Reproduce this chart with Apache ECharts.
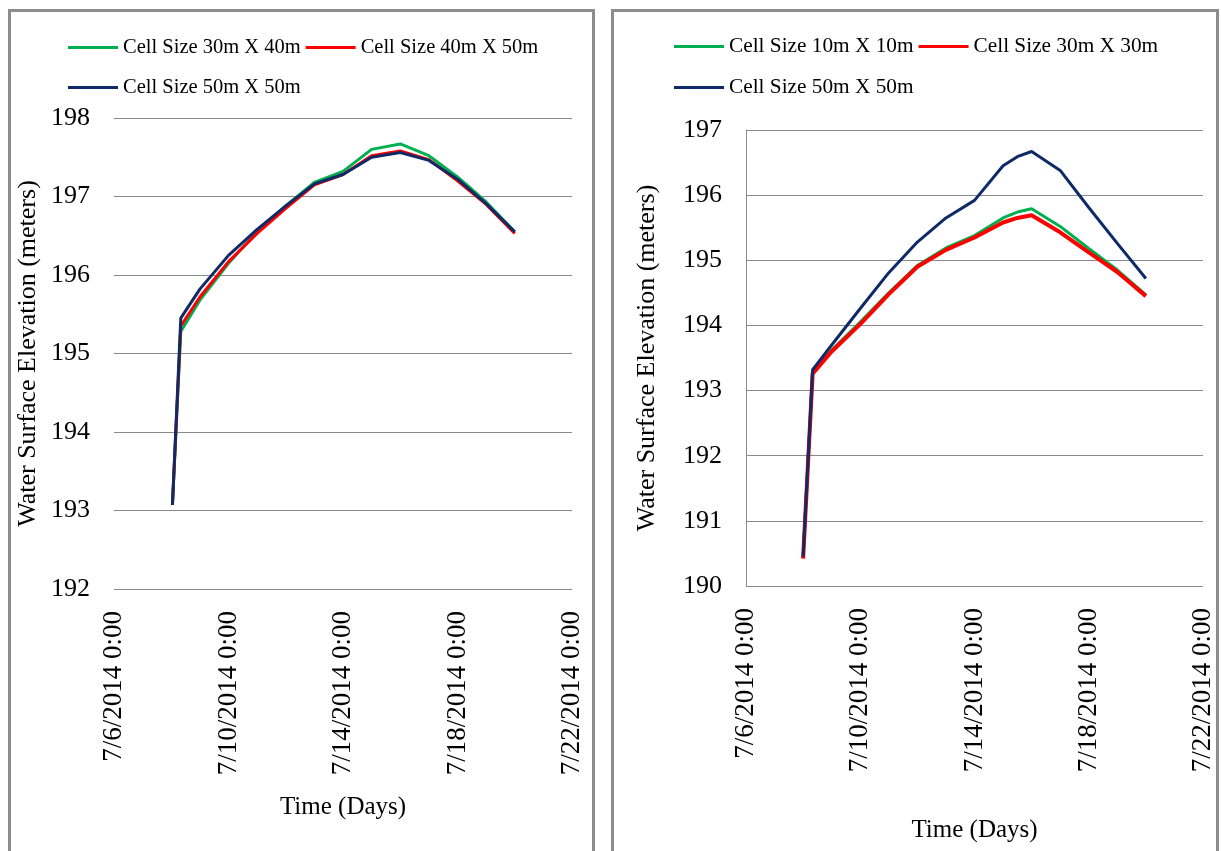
<!DOCTYPE html>
<html>
<head>
<meta charset="utf-8">
<title>Water Surface Elevation vs Time</title>
<script src="https://cdn.jsdelivr.net/npm/echarts@6/dist/echarts.min.js"></script>
<style>
  html, body { margin: 0; padding: 0; background: #ffffff; }
  #chart { width: 1221px; height: 851px; }
</style>
</head>
<body>
<div id="chart"></div>
<script>
// Time tick labels shared by both panels (every 4 days from 7/6/2014)
const xTickLabels = ['7/6/2014 0:00', '7/10/2014 0:00', '7/14/2014 0:00', '7/18/2014 0:00', '7/22/2014 0:00'];

// Left panel: sample times and elevations (m)
const leftTimes = ['7/8/2014 1:00', '7/8/2014 8:00', '7/9/2014 0:00', '7/10/2014 0:00', '7/11/2014 0:00',
  '7/12/2014 0:00', '7/13/2014 0:00', '7/14/2014 0:00', '7/15/2014 0:00', '7/16/2014 0:00',
  '7/17/2014 0:00', '7/18/2014 0:00', '7/19/2014 0:00', '7/20/2014 0:00'];
const left30x40 = [193.07, 195.28, 195.68, 196.15, 196.55, 196.88, 197.18, 197.32, 197.60, 197.67, 197.52, 197.25, 196.93, 196.55];
const left40x50 = [193.07, 195.35, 195.72, 196.17, 196.53, 196.85, 197.15, 197.28, 197.52, 197.58, 197.47, 197.20, 196.90, 196.53];
const left50x50 = [193.07, 195.45, 195.82, 196.25, 196.58, 196.88, 197.16, 197.28, 197.50, 197.56, 197.46, 197.22, 196.91, 196.55];

// Right panel: sample times and elevations (m)
const rightTimes = ['7/8/2014 0:00', '7/8/2014 8:00', '7/9/2014 0:00', '7/10/2014 0:00', '7/11/2014 0:00',
  '7/12/2014 0:00', '7/13/2014 0:00', '7/14/2014 0:00', '7/15/2014 0:00', '7/15/2014 12:00',
  '7/16/2014 0:00', '7/17/2014 0:00', '7/18/2014 0:00', '7/19/2014 0:00', '7/20/2014 0:00'];
const right10x10 = [190.44, 193.28, 193.62, 194.05, 194.50, 194.92, 195.19, 195.38, 195.65, 195.74, 195.79, 195.52, 195.18, 194.85, 194.47];
const right30x30 = [190.42, 193.26, 193.60, 194.02, 194.48, 194.90, 195.16, 195.35, 195.58, 195.65, 195.69, 195.43, 195.12, 194.82, 194.45];
const right50x50 = [190.45, 193.32, 193.70, 194.26, 194.81, 195.28, 195.65, 195.92, 196.45, 196.59, 196.67, 196.38, 195.81, 195.26, 194.72];

const legendLeft = ['Cell Size 30m X 40m', 'Cell Size 40m X 50m', 'Cell Size 50m X 50m'];
const legendRight = ['Cell Size 10m X 10m', 'Cell Size 30m X 30m', 'Cell Size 50m X 50m'];

const FONT = '"Liberation Serif", "Times New Roman", serif';
const GREEN = '#00b050', RED = '#ff0000', NAVY = '#0f2a66';
const DAY_MS = 86400000;
const ORIGIN = new Date(2014, 6, 6, 0, 0).getTime();

// "m/d/yyyy h:mm" -> days since 7/6/2014 0:00
function toDays(s) {
  const [date, time] = s.split(' ');
  const [m, d, y] = date.split('/').map(Number);
  const [h, mi] = time.split(':').map(Number);
  return (new Date(y, m - 1, d, h, mi).getTime() - ORIGIN) / DAY_MS;
}
function pairs(times, vals) { return times.map((t, i) => [toDays(t), vals[i]]); }

function xAxisFor(gridIndex, nameGap) {
  return {
    type: 'value', gridIndex, min: 0, max: 16, interval: 4,
    name: 'Time (Days)', nameLocation: 'middle', nameGap,
    nameTextStyle: { fontFamily: FONT, fontSize: 25, color: '#000' },
    axisLine: { show: false }, axisTick: { show: false }, splitLine: { show: false },
    axisLabel: {
      rotate: 90, margin: 22, fontFamily: FONT, fontSize: 27, color: '#000',
      formatter: v => xTickLabels[Math.round(v / 4)]
    }
  };
}
function yAxisFor(gridIndex, min, max, nameGap, showLine) {
  return {
    type: 'value', gridIndex, min, max, interval: 1,
    name: 'Water Surface Elevation (meters)', nameLocation: 'middle', nameGap, nameRotate: 90,
    nameTextStyle: { fontFamily: FONT, fontSize: 26, color: '#000' },
    axisLine: { show: showLine, lineStyle: { color: '#8a8a8a', width: 1 } },
    axisTick: { show: false },
    splitLine: { show: true, lineStyle: { color: '#8a8a8a', width: 1 } },
    axisLabel: { margin: 24, fontFamily: FONT, fontSize: 26, color: '#000' }
  };
}
function lineSeries(name, color, width, xi, data) {
  return {
    name, type: 'line', xAxisIndex: xi, yAxisIndex: xi, data,
    showSymbol: false, symbol: 'none', smooth: false, animation: false,
    lineStyle: { color, width }, itemStyle: { color }
  };
}
function legendFor(names, left, top, fontSize) {
  return {
    data: names, left, top, orient: 'horizontal',
    icon: 'rect', itemWidth: 50, itemHeight: 3, itemGap: 5,
    textStyle: { fontFamily: FONT, fontSize, color: '#000' },
    selectedMode: false
  };
}

const chart = echarts.init(document.getElementById('chart'), null, { renderer: 'canvas' });
chart.setOption({
  backgroundColor: '#ffffff',
  animation: false,
  graphic: [
    { type: 'rect', shape: { x: 9.5, y: 10.5, width: 584, height: 900 }, style: { fill: 'none', stroke: '#8c8c8c', lineWidth: 3 }, silent: true },
    { type: 'rect', shape: { x: 612.5, y: 10.5, width: 605, height: 900 }, style: { fill: 'none', stroke: '#8c8c8c', lineWidth: 3 }, silent: true }
  ],
  legend: [
    legendFor([legendLeft[0], legendLeft[1]], 63, 32, 20.5),
    legendFor([legendLeft[2]], 63, 72, 20.5),
    legendFor([legendRight[0], legendRight[1]], 669, 31, 21.3),
    legendFor([legendRight[2]], 669, 72, 21.3)
  ],
  grid: [
    { left: 114, top: 118, width: 458, height: 471, containLabel: false },
    { left: 746, top: 130, width: 457, height: 456, containLabel: false }
  ],
  xAxis: [xAxisFor(0, 206), xAxisFor(1, 232)],
  yAxis: [yAxisFor(0, 192, 198, 73, false), yAxisFor(1, 190, 197, 86, true)],
  series: [
    lineSeries(legendLeft[0], GREEN, 3, 0, pairs(leftTimes, left30x40)),
    lineSeries(legendLeft[1], RED, 3, 0, pairs(leftTimes, left40x50)),
    lineSeries(legendLeft[2], NAVY, 3, 0, pairs(leftTimes, left50x50)),
    lineSeries(legendRight[0], GREEN, 3, 1, pairs(rightTimes, right10x10)),
    lineSeries(legendRight[1], RED, 4, 1, pairs(rightTimes, right30x30)),
    lineSeries(legendRight[2] + ' ', NAVY, 3, 1, pairs(rightTimes, right50x50))
  ]
});
</script>
</body>
</html>
